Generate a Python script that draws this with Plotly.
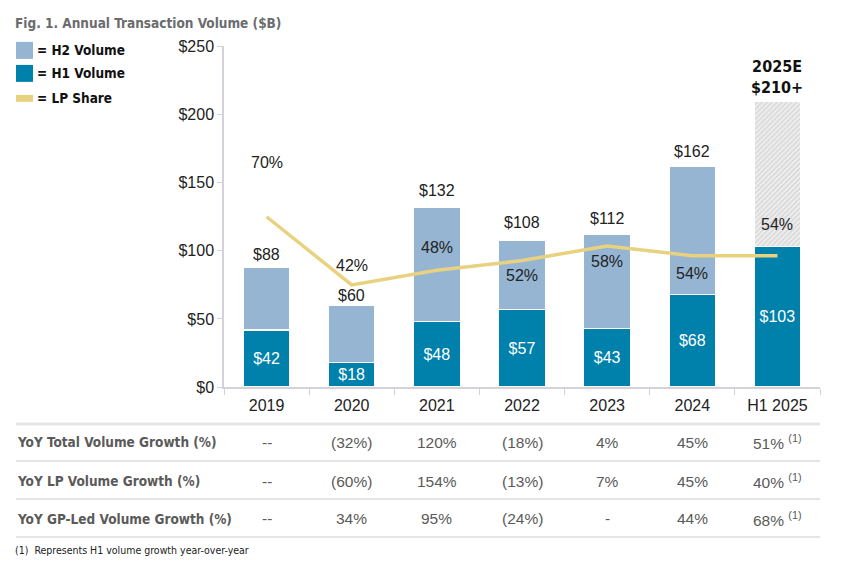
import plotly.graph_objects as go

# ---------------- data ----------------
categories = ["2019", "2020", "2021", "2022", "2023", "2024", "H1 2025"]
h1_volume = [42, 18, 48, 57, 43, 68, 103]
h2_volume = [46, 42, 84, 51, 69, 94, None]
total_volume = [88, 60, 132, 108, 112, 162, None]
estimate_remainder = [None, None, None, None, None, None, 107]
estimate_total_2025 = 210
lp_share = [70, 42, 48, 52, 58, 54, 54]

row_labels = ["YoY Total Volume Growth (%)", "YoY LP Volume Growth (%)",
              "YoY GP-Led Volume Growth (%)"]
total_growth = ["--", "(32%)", "120%", "(18%)", "4%", "45%", "51%"]
lp_growth = ["--", "(60%)", "154%", "(13%)", "7%", "45%", "40%"]
gp_growth = ["--", "34%", "95%", "(24%)", "-", "44%", "68%"]
footnoted = [False, False, False, False, False, False, True]
y_ticks = [0, 50, 100, 150, 200, 250]

# ---------------- styles / page geometry ----------------
FW, FH = 839, 563
PAGE_X0 = 7          # horizontal page offset (px)
PAGE_Y0 = 15         # vertical page offset (px)
PAGE_SY = 0.9707     # vertical scale of the photographed page
C_H1 = "#0081AB"
C_H2 = "#95B5D3"
C_LP = "#E8D27F"
C_AXIS = "#D3D2DA"
C_TXT = "#222222"
C_TBL = "#5A5A5A"
NUM_FONT = "Liberation Sans"
COND_FONT = "Liberation Sans Narrow, DejaVu Sans Condensed, sans-serif"
lp_label_offsets = [54, 19, 23, -15, -16, -18, 31]   # pixel shifts of share labels
total_label_offsets = [13, 10, 17, 17, 16, 15, 0]    # pixel shifts of total labels


def px_x(x):
    return (x - PAGE_X0) / FW


def px_y(y):
    return 1 - (y / PAGE_SY - PAGE_Y0) / FH


idx = list(range(len(categories)))

fig = go.Figure()

fig.add_trace(go.Bar(
    x=categories, y=h1_volume, name="H1 Volume",
    marker=dict(color=C_H1, line=dict(color="white", width=1.5)),
    text=[f"${v}" for v in h1_volume], textposition="inside",
    insidetextanchor="middle",
    textfont=dict(color="white", size=16, family=NUM_FONT),
    width=0.55, showlegend=False, hoverinfo="skip",
))
fig.add_trace(go.Bar(
    x=categories, y=h2_volume, name="H2 Volume",
    marker=dict(color=C_H2, line=dict(color="white", width=1.5)),
    width=0.55, showlegend=False, hoverinfo="skip",
))
fig.add_trace(go.Bar(
    x=categories, y=estimate_remainder, name="2025E",
    marker=dict(color="#E4E4E4", line=dict(color="white", width=1.5),
                pattern=dict(shape="/", fgcolor="#ABABAB", bgcolor="#EEEEEE",
                             size=3.5, solidity=0.3)),
    width=0.55, showlegend=False, hoverinfo="skip",
))
fig.add_trace(go.Scatter(
    x=categories, y=lp_share, yaxis="y2", mode="lines", name="LP Share",
    line=dict(color=C_LP, width=3.5), showlegend=False, hoverinfo="skip",
))

annotations = []
# total labels
for i, t, off in zip(idx, total_volume, total_label_offsets):
    if t is None:
        continue
    annotations.append(dict(x=i, y=t, xref="x", yref="y", text=f"${t}",
                            showarrow=False, yanchor="middle", yshift=off,
                            font=dict(size=16, color=C_TXT, family=NUM_FONT)))
# 2025E estimate label
annotations.append(dict(x=idx[-1], y=estimate_total_2025, xref="x", yref="y",
                        text=f"<b>2025E</b><br><b>${estimate_total_2025}+</b>",
                        showarrow=False, yanchor="bottom", yshift=2,
                        font=dict(size=16, color="#111111", family=COND_FONT)))
# LP share labels
for i, s, off in zip(idx, lp_share, lp_label_offsets):
    annotations.append(dict(x=i, y=s, xref="x", yref="y2", text=f"{s}%",
                            showarrow=False, yanchor="middle", yshift=off,
                            font=dict(size=16, color=C_TXT, family=NUM_FONT)))

# title
annotations.append(dict(x=px_x(12), y=min(px_y(16), 1 - 7.5 / FH), xref="paper", yref="paper",
                        xanchor="left", yanchor="middle", showarrow=False,
                        text="<b>Fig. 1. Annual Transaction Volume ($B)</b>",
                        font=dict(size=13.5, color="#6B6C6E", family=COND_FONT)))

# legend (custom)
shapes = []
legend_items = [("= H2 Volume", C_H2, 49, 17), ("= H1 Volume", C_H1, 72, 17),
                ("= LP Share", C_LP, 97, 7)]
for label, col, yc, hgt in legend_items:
    shapes.append(dict(type="rect", xref="paper", yref="paper",
                       x0=px_x(15), x1=px_x(32), y0=px_y(yc + hgt / 2), y1=px_y(yc - hgt / 2),
                       fillcolor=col, line=dict(width=0)))
    annotations.append(dict(x=px_x(34), y=px_y(yc), xref="paper", yref="paper",
                            xanchor="left", yanchor="middle", showarrow=False,
                            text=f"<b>{label}</b>",
                            font=dict(size=13.5, color="#111111", family=COND_FONT)))

# table
row_y = [441, 480, 518]
rows = [total_growth, lp_growth, gp_growth]
for lbl, ry, vals in zip(row_labels, row_y, rows):
    annotations.append(dict(x=px_x(14), y=px_y(ry), xref="paper", yref="paper",
                            xanchor="left", yanchor="middle", showarrow=False,
                            text=f"<b>{lbl}</b>",
                            font=dict(size=13.5, color=C_TBL, family=COND_FONT)))
    for i, v, fn in zip(idx, vals, footnoted):
        txt = v + (" <sup>(1)</sup>" if fn else "")
        annotations.append(dict(x=i, y=px_y(ry), xref="x", yref="paper",
                                xanchor="center", yanchor="middle", showarrow=False,
                                text=txt,
                                font=dict(size=15.5, color=C_TBL, family=NUM_FONT)))

for ly, lw, lc in [(423, 3, "#E6E6E6"), (460, 1.5, "#DCDCDC"),
                   (498, 1.5, "#DCDCDC"), (536, 1.5, "#DCDCDC")]:
    shapes.append(dict(type="line", xref="paper", yref="paper",
                       x0=px_x(15), x1=px_x(819), y0=px_y(ly), y1=px_y(ly),
                       line=dict(color=lc, width=lw)))

annotations.append(dict(x=px_x(12), y=px_y(549), xref="paper", yref="paper",
                        xanchor="left", yanchor="middle", showarrow=False,
                        text="(1)  Represents H1 volume growth year-over-year",
                        font=dict(size=10.5, color="#222222", family=COND_FONT)))

fig.update_layout(
    width=FW, height=FH,
    margin=dict(l=0, r=0, t=0, b=0),
    paper_bgcolor="white", plot_bgcolor="white",
    barmode="stack", bargap=0.45,
    showlegend=False,
    uniformtext=dict(minsize=16, mode="show"),
    xaxis=dict(domain=[px_x(223), px_x(819)], type="category",
               range=[-0.5, len(categories) - 0.5],
               showline=True, linecolor=C_AXIS, linewidth=1.5,
               ticks="outside", tickson="boundaries", ticklen=6, tickcolor=C_AXIS,
               ticklabelstandoff=3,
               tickfont=dict(size=16, color=C_TXT, family=NUM_FONT),
               showgrid=False, zeroline=False),
    yaxis=dict(domain=[px_y(386), px_y(45)], range=[0, 250],
               tickvals=y_ticks, ticktext=[f"${v}" for v in y_ticks],
               showline=True, linecolor=C_AXIS, linewidth=1.5,
               ticks="outside", ticklen=5, tickcolor=C_AXIS,
               tickfont=dict(size=16, color=C_TXT, family=NUM_FONT),
               showgrid=False, zeroline=False),
    yaxis2=dict(overlaying="y", range=[0, 140], visible=False),
    annotations=annotations,
    shapes=shapes,
)

fig.write_html("out.html")
